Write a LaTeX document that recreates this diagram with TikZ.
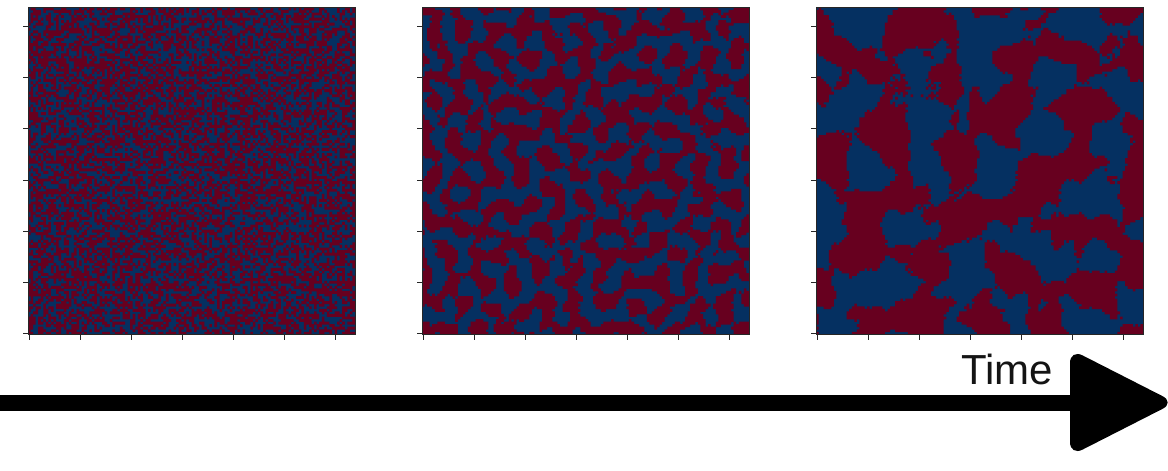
\documentclass[tikz,border=0pt]{standalone}
\usepackage{fontspec}
\newfontfamily\timefont{Liberation Sans}
\definecolor{redC}{HTML}{67001F}
\definecolor{blueC}{HTML}{053061}

\newcount\RsI \newcount\RsJ \newcount\RsRun \newcount\RsSeed \newcount\RsTmp \newcount\RsVal
\newdimen\RsCell \RsCell=2.5546875pt
\newdimen\RsXo \newdimen\RsYo

% Park-Miller random generator (Schrage)
\def\RsRand{\RsTmp=\RsSeed \divide\RsTmp by 127773
  \RsSeed=\numexpr16807*(\RsSeed-\RsTmp*127773)-2836*\RsTmp\relax
  \ifnum\RsSeed<1 \advance\RsSeed by 2147483647 \fi}

\def\RsAdd#1#2{\pgfpathrectanglecorners
  {\pgfqpoint{\dimexpr\RsXo+\RsCell*#1\relax}{\dimexpr-\RsYo-\RsCell*\RsJ+0.1pt\relax}}
  {\pgfqpoint{\dimexpr\RsXo+\RsCell*#2\relax}{\dimexpr-\RsYo-\RsCell*\RsJ-\RsCell-0.25pt\relax}}}

\def\RsCol{%
  \RsCellFn
  \ifnum\RsVal=1
    \ifnum\RsRun<0 \RsRun=\RsI\fi
  \else
    \ifnum\RsRun>-1 \RsAdd\RsRun\RsI \RsRun=-1 \fi
  \fi
  \advance\RsI by 1
  \ifnum\RsI<128 \expandafter\RsCol\fi}

\def\RsRow{\RsRun=-1 \RsI=0 \RsCol
  \ifnum\RsRun>-1 \RsAdd\RsRun{128}\fi
  \advance\RsJ by 1
  \ifnum\RsJ<128 \expandafter\RsRow\fi}

% wave tables: name, kx, ky, phase, amplitude
\def\mkwave#1#2#3#4#5{%
  \foreach \RsT in {0,...,127}{%
    \pgfmathtruncatemacro\RsA{round(#5*1000*cos(#2*\RsT))}%
    \expandafter\xdef\csname #1cx\RsT\endcsname{\RsA}%
    \pgfmathtruncatemacro\RsA{round(#5*1000*sin(#2*\RsT))}%
    \expandafter\xdef\csname #1sx\RsT\endcsname{\RsA}%
    \pgfmathtruncatemacro\RsA{round(1000*cos(#3*\RsT+#4))}%
    \expandafter\xdef\csname #1cy\RsT\endcsname{\RsA}%
    \pgfmathtruncatemacro\RsA{round(1000*sin(#3*\RsT+#4))}%
    \expandafter\xdef\csname #1sy\RsT\endcsname{\RsA}%
  }}
\def\RsTerm#1{+\csname #1cx\the\RsI\endcsname*\csname #1cy\the\RsJ\endcsname
  -\csname #1sx\the\RsI\endcsname*\csname #1sy\the\RsJ\endcsname}

% random waves: sum macro, prefix, count, kmin, kmax (deg per cell), amplitude
% directions spread evenly over 180 degrees with jitter
\def\mkrandwaves#1#2#3#4#5#6{%
  \foreach \RsW in {1,...,#3}{%
    \pgfmathsetmacro\RsTh{(\RsW-1+rnd)*180/#3}%
    \pgfmathsetmacro\RsK{#4+(#5-#4)*rnd}%
    \pgfmathsetmacro\RsPh{360*rnd}%
    \pgfmathsetmacro\RsKx{\RsK*cos(\RsTh)}%
    \pgfmathsetmacro\RsKy{\RsK*sin(\RsTh)}%
    \edef\RsDo{\noexpand\mkwave{#2\RsW}{\RsKx}{\RsKy}{\RsPh}{#6}}\RsDo
    \xdef#1{\unexpanded\expandafter{#1}\noexpand\RsTerm{#2\RsW}}%
  }}

\gdef\RsSumB{}
\gdef\RsSumC{}
\pgfmathsetseed{2718}
\mkrandwaves{\RsSumB}{b}{16}{24}{46}{1}
\mkrandwaves{\RsSumB}{h}{6}{55}{75}{0.45}
\pgfmathsetseed{161803}
\mkrandwaves{\RsSumC}{c}{16}{9}{20}{1}
\mkrandwaves{\RsSumC}{g}{7}{24}{42}{0.45}

\def\RsCellA{\RsRand \ifnum\RsSeed>1073741823 \RsVal=1 \else \RsVal=0 \fi}
\def\RsCellB{\RsRand \RsTmp=\RsSeed \divide\RsTmp by 1073741 \advance\RsTmp by -1000
  \RsVal=\numexpr 0\RsSumB+\RsTmp*800\relax
  \ifnum\RsVal>0 \RsVal=1 \else \RsVal=0 \fi}
\def\RsCellC{\RsRand \RsTmp=\RsSeed \divide\RsTmp by 1073741 \advance\RsTmp by -1000
  \RsVal=\numexpr 0\RsSumC+\RsTmp*550\relax
  \ifnum\RsVal>0 \RsVal=1 \else \RsVal=0 \fi}

\def\RsPanel#1#2#3{% x0, cell function, seed
  \fill[blueC] (#1,7.5) rectangle ++(327,327);
  \begin{pgfscope}
  \let\RsCellFn#2\RsSeed=#3
  \RsXo=#1pt \RsYo=7.5pt \RsJ=0
  \RsRow
  \pgfsetfillcolor{redC}\pgfusepath{fill}
  \end{pgfscope}}

\tikzset{
  frame/.style={draw=black!85, line width=0.9pt, minimum width=327pt, minimum height=327pt, inner sep=0pt},
  tick/.style={draw=black!85, line width=0.8pt},
  timelabel/.style={font=\timefont\fontsize{42}{50}\selectfont, text=black!92, inner sep=0pt, anchor=base west}
}

\begin{document}
\begin{tikzpicture}[x=1pt,y=-1pt]
\useasboundingbox (0,0) rectangle (1168,471);
\fill[white] (0,0) rectangle (1168,471);

\RsPanel{28}{\RsCellA}{12345}
\RsPanel{422}{\RsCellB}{777}
\RsPanel{816}{\RsCellC}{4242}

\foreach \px/\nm in {28/p1, 422/p2, 816/p3}{
  \node[frame] (\nm) at (\px+163.5, 171) {};
  \foreach \k in {0,...,6}{
    \draw[tick] ({\px+2.5546875*(0.5+20*\k)},334.5) -- ++(0,5);
    \draw[tick] (\px,{334.5-2.5546875*(0.5+20*\k)}) -- ++(-5,0);
  }
}

\coordinate (tail) at (0,403);
\coordinate (shaftend) at (1085,403);
\draw[line width=16pt] (tail) -- (shaftend);
\fill[rounded corners=14pt] (1070,402.5) -- (1070,349) -- (1175,402.5) -- (1070,456) -- cycle;
\node[timelabel] (time) at (961,384) {Time};
\end{tikzpicture}
\end{document}
